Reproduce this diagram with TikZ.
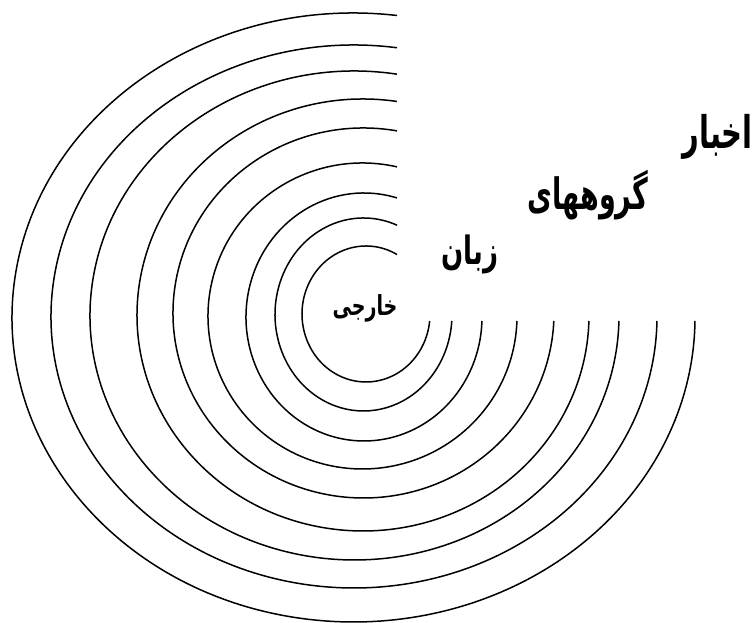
\documentclass[tikz,border=0pt]{standalone}
\usepackage{fontspec}
\TeXXeTstate=1
\newfontfamily\arabicfont[Script=Arabic]{DejaVu Sans}
\begin{document}
\begin{tikzpicture}[x=1pt,y=1pt,
  ring/.style={draw=black,line width=1.5pt},
  word/.style={inner sep=0pt}]
\useasboundingbox (0,0) rectangle (755,623);
\foreach \cx/\cy/\a/\b in {366/314/64/68, 363.5/314.5/88.5/96.5, 364/317/118/124,
  362.5/316/154.5/153, 363.5/313/190.5/185, 363/315/226/216,
  354.5/315.5/264.5/244.5, 354/316.5/303/271.5, 353.5/317.5/341.5/304.5}{
  \pgfmathsetmacro\ts{acos((397-\cx)/\a)}
  \pgfmathsetmacro\te{360-asin((321-\cy)/\b)}
  \pgfmathsetmacro\Y{623-\cy}
  \draw[ring] ({\cx+\a*cos(\ts)},{\Y+\b*sin(\ts)})
    arc[start angle=\ts, end angle=\te, x radius=\a pt, y radius=\b pt];
}
\node[word,font=\arabicfont\bfseries\fontsize{29}{34}\selectfont,anchor=east] (akhbar) at (753,486) {\scalebox{1}[1.55]{\beginR اخبار\endR}};
\node[word,font=\arabicfont\bfseries\fontsize{27}{32}\selectfont] (goruh) at (588,428) {\scalebox{1}[1.6]{\beginR گروههای\endR}};
\node[word,font=\arabicfont\bfseries\fontsize{26}{31}\selectfont] (zaban) at (470,369) {\scalebox{1}[1.5]{\beginR زبان\endR}};
\node[word,font=\arabicfont\bfseries\fontsize{19}{23}\selectfont] (khareji) at (365,315) {\scalebox{1}[1.45]{\beginR خارجی\endR}};
\end{tikzpicture}
\end{document}
